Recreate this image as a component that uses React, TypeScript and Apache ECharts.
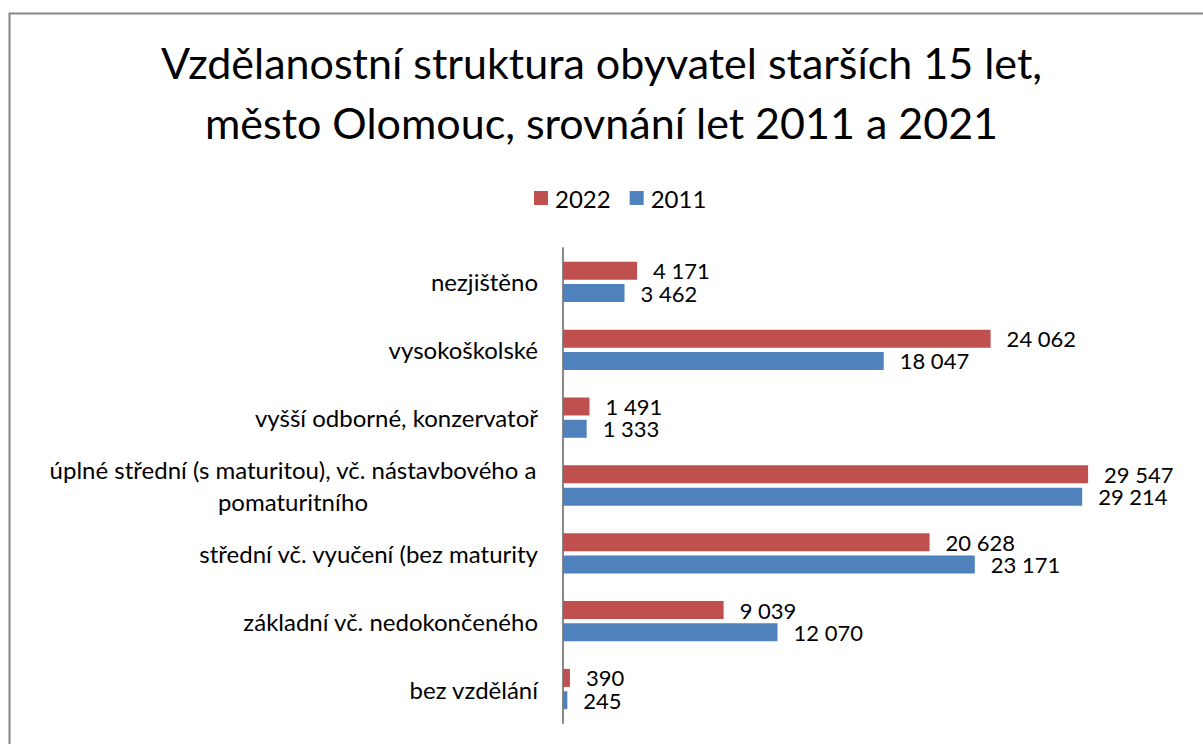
import React, { useEffect, useRef } from "react";
import * as echarts from "echarts";

const categories = [
  "bez vzdělání",
  "základní vč. nedokončeného",
  "střední vč. vyučení (bez maturity",
  "úplné střední (s maturitou), vč. nástavbového a\npomaturitního",
  "vyšší odborné, konzervatoř",
  "vysokoškolské",
  "nezjištěno",
];
const values2022 = [390, 9039, 20628, 29547, 1491, 24062, 4171];
const values2011 = [245, 12070, 23171, 29214, 1333, 18047, 3462];
const titleLines = [
  "Vzdělanostní struktura obyvatel starších 15 let,",
  "město Olomouc, srovnání let 2011 a 2021",
];

const FONT = "Lato, 'Noto Sans', sans-serif";
const FS = 24;

const fmt = (v: number) => String(v).replace(/\B(?=(\d{3})+(?!\d))/g, " ");

export default function App() {
  const ref = useRef<HTMLDivElement>(null);
  useEffect(() => {
    if (!ref.current) return;
    const chart = echarts.init(ref.current, undefined, { renderer: "svg" });
    const labelCfg = {
      show: true,
      position: "right",
      distance: 16,
      fontFamily: FONT,
      fontSize: 22,
      lineHeight: 20,
      color: "#000",
      formatter: (p: any) => fmt(p.value),
    };
    chart.setOption({
      animation: false,
      backgroundColor: "#ffffff",
      textStyle: { fontFamily: FONT },
      title: {
        text: titleLines.join("\n"),
        left: "center",
        top: 27,
        textStyle: {
          fontFamily: FONT,
          fontSize: 43,
          fontWeight: "normal",
          color: "#000",
          lineHeight: 60,
        },
      },
      legend: {
        data: ["2022", "2011"],
        left: 529,
        top: 181,
        itemWidth: 14,
        itemHeight: 14,
        itemGap: 19,
        icon: "rect",
        textStyle: { fontFamily: FONT, fontSize: FS, color: "#000", padding: [0, 0, 0, 2] },
      },
      graphic: [
        {
          type: "rect",
          shape: { x: 9.5, y: 13.5, width: 1400, height: 900 },
          style: { fill: "none", stroke: "#878787", lineWidth: 2 },
          silent: true,
        },
      ],
      grid: { left: 563, top: 248, height: 475, width: 622, containLabel: false },
      xAxis: {
        type: "value",
        min: 0,
        max: 35000,
        show: false,
        splitLine: { show: false },
      },
      yAxis: {
        type: "category",
        data: categories,
        axisLine: { show: true, lineStyle: { color: "#888", width: 2 } },
        axisTick: { show: false },
        axisLabel: {
          margin: 25,
          fontFamily: FONT,
          fontSize: FS,
          color: "#000",
          formatter: (v: string) => {
            if (v.indexOf("\n") >= 0) {
              return v
                .split("\n")
                .map((s) => "{c|" + s + "}")
                .join("\n");
            }
            return v;
          },
          rich: {
            c: {
              width: 490,
              align: "center",
              fontFamily: FONT,
              fontSize: FS,
              color: "#000",
              lineHeight: 32,
            },
          },
        },
      },
      series: [
        {
          name: "2022",
          type: "bar",
          data: values2022,
          barWidth: 18,
          barGap: "24%",
          itemStyle: { color: "#C0504D" },
          label: labelCfg,
        },
        {
          name: "2011",
          type: "bar",
          data: values2011,
          barWidth: 18,
          barGap: "24%",
          itemStyle: { color: "#4F81BD" },
          label: labelCfg,
        },
      ],
    });
    return () => chart.dispose();
  }, []);
  return (
    <div
      ref={ref}
      style={{ position: "fixed", left: 0, top: 0, width: 1203, height: 744 }}
    />
  );
}
